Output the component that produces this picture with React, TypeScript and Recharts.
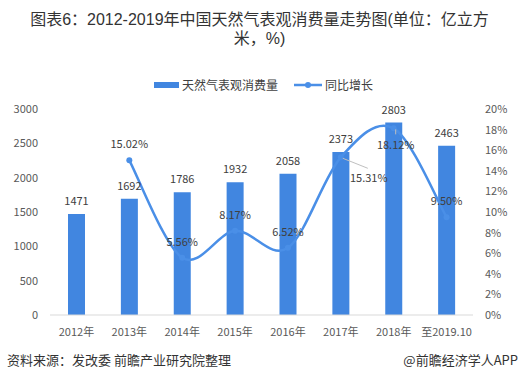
import React from "react";
import { ComposedChart, Bar, Line, XAxis, YAxis, LabelList } from "recharts";

const categories = ["2012年", "2013年", "2014年", "2015年", "2016年", "2017年", "2018年", "至2019.10"];
const consumption = [1471, 1692, 1786, 1932, 2058, 2373, 2803, 2463];
const growth: (number | null)[] = [null, 15.02, 5.56, 8.17, 6.52, 15.31, 18.12, 9.5];
const leftTicks = [0, 500, 1000, 1500, 2000, 2500, 3000];
const rightTicks = [0, 2, 4, 6, 8, 10, 12, 14, 16, 18, 20];

const BAR_COLOR = "#4186E0";
const LINE_COLOR = "#4A8FE7";
const FONT = "'Noto Sans CJK SC', 'Noto Sans', sans-serif";

const data = categories.map((name, i) => ({
  name,
  consumption: consumption[i],
  growth: growth[i],
}));

// Excel-style smoothed line (bezier with 1/6 tangents)
const excelCurve = (context: any) => {
  let pts: number[][] = [];
  return {
    areaStart() {},
    areaEnd() {},
    lineStart() {
      pts = [];
    },
    point(x: number, y: number) {
      pts.push([+x, +y]);
    },
    lineEnd() {
      if (!pts.length) return;
      context.moveTo(pts[0][0], pts[0][1]);
      for (let i = 0; i < pts.length - 1; i++) {
        const p0 = pts[i - 1] || pts[i];
        const p1 = pts[i];
        const p2 = pts[i + 1];
        const p3 = pts[i + 2] || p2;
        context.bezierCurveTo(
          p1[0] + (p2[0] - p0[0]) / 6,
          p1[1] + (p2[1] - p0[1]) / 6,
          p2[0] - (p3[0] - p1[0]) / 6,
          p2[1] - (p3[1] - p1[1]) / 6,
          p2[0],
          p2[1]
        );
      }
    },
  };
};

const renderGrowthLabel = (props: any) => {
  const { value, index } = props;
  if (value == null) return null;
  const vb = props.viewBox || {};
  const x = props.x ?? vb.x;
  const y = props.y ?? vb.y;
  const text = `${Number(value).toFixed(2)}%`;
  let cx = x;
  let cy = y - 16;
  let leader: React.ReactNode = null;
  if (index === 5) {
    cx = x + 28;
    cy = y + 21;
    leader = <line x1={x + 2} y1={y + 1} x2={x + 27} y2={y + 11} stroke="#BFBFBF" strokeWidth={1} />;
  } else if (index === 6) {
    cx = x + 2;
    cy = y + 17;
    leader = <line x1={x + 2} y1={y + 1} x2={x + 2} y2={y + 6} stroke="#BFBFBF" strokeWidth={1} />;
  }
  return (
    <g>
      {leader}
      <text x={cx} y={cy + 4} textAnchor="middle" fill="#404040" fontSize={11} fontFamily={FONT}>
        {text}
      </text>
    </g>
  );
};

export default function App() {
  return (
    <div
      style={{
        position: "absolute",
        left: 0,
        top: 0,
        width: 519,
        height: 380,
        background: "#fff",
        fontFamily: FONT,
        color: "#333",
        overflow: "hidden",
      }}
    >
      <div
        style={{
          position: "absolute",
          top: 11,
          left: 0,
          width: 519,
          textAlign: "center",
          fontSize: 16,
          lineHeight: "18.5px",
          fontFamily: "'Liberation Sans', 'Noto Sans CJK SC', sans-serif",
          color: "#333",
          whiteSpace: "nowrap",
        }}
      >
        图表6：2012-2019年中国天然气表观消费量走势图(单位：亿立方
        <br />
        米，%)
      </div>

      {/* legend */}
      <div style={{ position: "absolute", left: 154, top: 82, width: 25, height: 6, background: BAR_COLOR }} />
      <div style={{ position: "absolute", left: 182, top: 78, fontSize: 12, lineHeight: "14px", color: "#404040" }}>
        天然气表观消费量
      </div>
      <svg style={{ position: "absolute", left: 294, top: 80 }} width={28} height={10}>
        <line x1={0} y1={5} x2={28} y2={5} stroke={LINE_COLOR} strokeWidth={2.5} />
        <circle cx={14} cy={5} r={3} fill={LINE_COLOR} />
      </svg>
      <div style={{ position: "absolute", left: 325, top: 78, fontSize: 12, lineHeight: "14px", color: "#404040" }}>
        同比增长
      </div>

      <div style={{ position: "absolute", left: 0, top: 0 }}>
        <ComposedChart width={519} height={380} data={data} margin={{ top: 109, right: 0, left: 0, bottom: 35 }}>
          <XAxis
            dataKey="name"
            interval={0}
            tickLine={false}
            axisLine={{ stroke: "#D9D9D9" }}
            tickMargin={7}
            tick={{ fill: "#595959", fontSize: 11, fontFamily: FONT }}
          />
          <YAxis
            yAxisId="left"
            domain={[0, 3000]}
            ticks={leftTicks}
            axisLine={false}
            tickLine={false}
            width={50}
            tickMargin={6}
            tick={{ fill: "#595959", fontSize: 11, fontFamily: FONT }}
          />
          <YAxis
            yAxisId="right"
            orientation="right"
            domain={[0, 20]}
            ticks={rightTicks}
            tickFormatter={(v: number) => `${v}%`}
            axisLine={false}
            tickLine={false}
            width={46}
            tickMargin={6}
            tick={{ fill: "#595959", fontSize: 11, fontFamily: FONT }}
          />
          <Bar yAxisId="left" dataKey="consumption" fill={BAR_COLOR} barSize={17} isAnimationActive={false}>
            <LabelList dataKey="consumption" position="top" offset={9} fill="#404040" fontSize={11} fontFamily={FONT} />
          </Bar>
          <Line
            yAxisId="right"
            dataKey="growth"
            type={excelCurve as any}
            stroke={LINE_COLOR}
            strokeWidth={2.5}
            dot={{ r: 3, fill: LINE_COLOR, stroke: LINE_COLOR, strokeWidth: 0 }}
            activeDot={false}
            isAnimationActive={false}
          >
            <LabelList dataKey="growth" content={renderGrowthLabel} />
          </Line>
        </ComposedChart>
      </div>

      {/* footer */}
      <div style={{ position: "absolute", left: 7, top: 352, fontSize: 13, lineHeight: "16px", color: "#333" }}>
        资料来源：发改委 前瞻产业研究院整理
      </div>
      <div style={{ position: "absolute", right: 1, top: 352, fontSize: 13, lineHeight: "16px", color: "#333" }}>
        @前瞻经济学人APP
      </div>
    </div>
  );
}
